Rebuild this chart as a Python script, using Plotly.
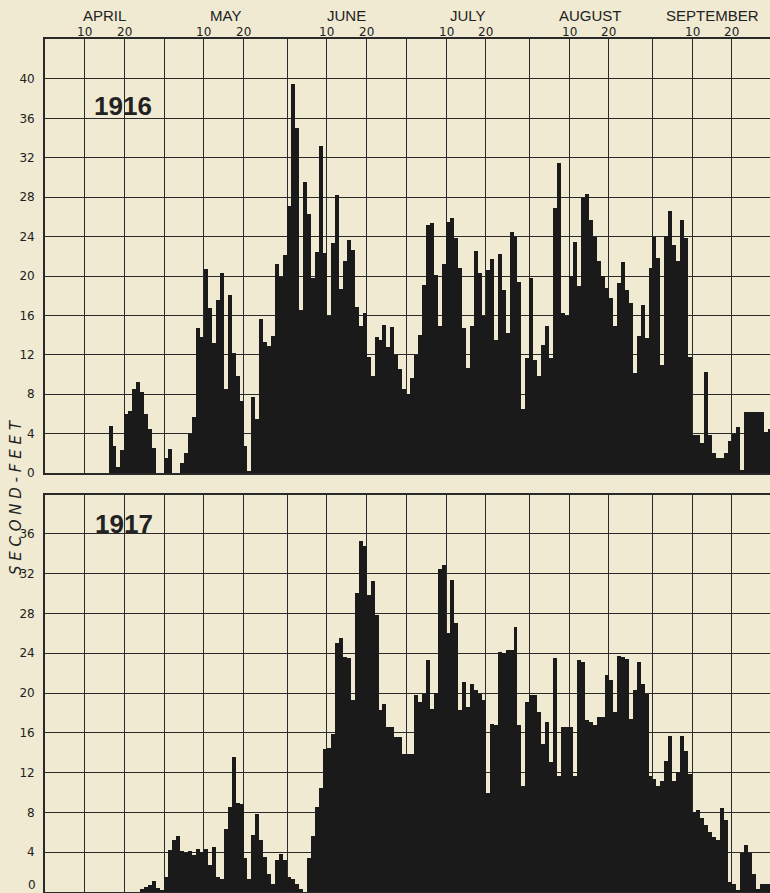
import plotly.graph_objects as go

# Daily discharge, second-feet, April 1 - September 30
apr_1916 = [0]*16 + [4.8, 2.7, 0.6, 2.3, 6.0, 6.3, 8.5, 9.2, 8.2, 6.0, 4.5, 2.5, 0, 0]
may_1916 = [1.5, 2.4, 0, 0, 1.0, 2.0, 4.0, 5.7, 14.7, 13.8,
            20.7, 16.8, 13.2, 17.6, 20.3, 8.5, 18.1, 12.2, 9.8, 7.3,
            2.7, 0.2, 7.7, 5.5, 15.6, 13.3, 12.9, 13.9, 21.2, 19.9, 22.1]
jun_1916 = [27.1, 39.5, 35.0, 16.5, 29.5, 26.3, 19.8, 22.4, 33.2, 22.3,
            15.9, 23.3, 28.2, 18.7, 21.5, 23.7, 22.6, 16.9, 14.9, 16.2,
            11.8, 9.8, 13.8, 13.5, 15.0, 12.8, 14.8, 12.0, 10.6, 8.5]
jul_1916 = [8.0, 9.6, 12.0, 14.0, 19.1, 25.2, 25.4, 20.1, 14.9, 21.2,
            25.5, 25.9, 23.9, 20.8, 14.7, 10.7, 14.9, 22.5, 20.3, 15.9,
            20.6, 21.7, 13.5, 22.2, 18.6, 14.2, 24.5, 24.0, 19.4, 6.5, 11.7]
aug_1916 = [19.8, 11.5, 9.8, 13.0, 14.9, 11.7, 26.9, 31.5, 16.2, 15.9,
            20.0, 23.5, 19.0, 27.9, 28.3, 25.7, 24.0, 21.5, 20.0, 18.8,
            17.8, 14.9, 19.3, 21.4, 18.6, 17.3, 10.2, 13.9, 17.1, 13.7, 20.8]
sep_1916 = [24.0, 21.8, 11.0, 24.1, 26.6, 23.1, 21.5, 25.7, 23.9, 11.8,
            3.9, 3.9, 3.0, 10.3, 3.9, 2.0, 1.5, 1.5, 2.0, 3.2,
            4.0, 4.7, 0.3, 6.2, 6.2, 6.2, 6.2, 6.2, 4.2, 4.5]

apr_1917 = [0]*24 + [0.3, 0.5, 0.7, 1.1, 0.4, 0.2]
may_1917 = [1.5, 4.2, 5.2, 5.6, 4.1, 3.9, 4.1, 3.7, 4.3, 4.0,
            4.3, 2.7, 4.5, 1.5, 1.3, 6.3, 8.5, 13.6, 8.9, 8.8,
            3.4, 1.3, 5.7, 7.8, 5.2, 3.5, 1.8, 0.8, 3.2, 3.8, 3.2]
jun_1917 = [1.5, 1.3, 0.8, 0.3, 0, 3.4, 5.6, 8.5, 10.5, 14.4,
            14.5, 15.9, 25.0, 25.5, 23.6, 23.5, 19.3, 30.1, 35.3, 34.8,
            29.8, 31.3, 27.8, 18.3, 18.9, 16.6, 16.6, 15.6, 15.6, 13.9]
jul_1917 = [13.9, 13.9, 19.8, 19.1, 19.9, 23.3, 18.4, 20.0, 32.5, 32.9,
            26.0, 31.4, 27.0, 18.3, 21.1, 18.6, 20.9, 20.3, 19.9, 19.3,
            9.9, 16.9, 16.8, 24.1, 24.0, 24.3, 24.3, 26.6, 16.8, 10.7, 19.1]
aug_1917 = [19.8, 19.8, 18.1, 14.9, 17.1, 13.1, 23.5, 11.7, 16.6, 16.6,
            16.6, 11.7, 23.3, 23.1, 17.3, 17.1, 16.8, 17.6, 17.6, 21.8,
            21.3, 18.1, 23.7, 23.6, 23.4, 17.4, 20.3, 23.1, 20.9, 19.9, 11.7]
sep_1917 = [11.4, 10.7, 11.2, 13.2, 15.7, 11.2, 12.1, 15.7, 14.2, 11.9,
            8.0, 8.2, 7.4, 6.7, 6.0, 5.5, 5.2, 8.4, 7.2, 1.0,
            0.8, 0.2, 3.9, 4.7, 3.9, 1.8, 0.3, 0.8, 0.8, 0.8]

months = ["APRIL", "MAY", "JUNE", "JULY", "AUGUST", "SEPTEMBER"]
month_days = [30, 31, 30, 31, 31, 30]
day_marks = ["10", "20"]
y_ticks_1916 = [0, 4, 8, 12, 16, 20, 24, 28, 32, 36, 40]
y_ticks_1917 = [0, 4, 8, 12, 16, 20, 24, 28, 32, 36]
y_label = "SECOND-FEET"

flow_1916 = apr_1916 + may_1916 + jun_1916 + jul_1916 + aug_1916 + sep_1916
flow_1917 = apr_1917 + may_1917 + jun_1917 + jul_1917 + aug_1917 + sep_1917
days = [d + 0.5 for d in range(len(flow_1916))]

starts = []
acc = 0
for n in month_days:
    starts.append(acc)
    acc += n
grid_x = []
for s in starts:
    grid_x += [s, s + 10, s + 20]

BG = "#efead1"
INK = "#1a1a1a"
GRID = "#2a2a2a"
TXT = "#222222"

fig = go.Figure()
fig.add_trace(go.Bar(x=days, y=flow_1916, width=1.0, marker=dict(color=INK, line=dict(width=0)),
                     xaxis="x", yaxis="y", hoverinfo="skip"))
fig.add_trace(go.Bar(x=days, y=flow_1917, width=1.0, marker=dict(color=INK, line=dict(width=0)),
                     xaxis="x2", yaxis="y2", hoverinfo="skip"))

xcommon = dict(range=[0, 182.6], tickvals=grid_x, showgrid=True, gridcolor=GRID, gridwidth=1.4,
               showticklabels=False, ticks="", showline=True, linecolor=GRID, linewidth=1.8,
               mirror=True, zeroline=False, fixedrange=True, automargin=False)
ycommon = dict(showgrid=True, gridcolor=GRID, gridwidth=1.4, showline=True, linecolor=GRID,
               linewidth=1.8, zeroline=False, ticks="", ticklabelstandoff=6, automargin=False,
               tickfont=dict(family="DejaVu Sans", size=12, color=TXT), fixedrange=True)

fig.update_layout(
    width=770, height=893, autosize=False,
    margin=dict(l=45, r=0, t=39, b=1, pad=0),
    paper_bgcolor=BG, plot_bgcolor=BG,
    showlegend=False, bargap=0,
    xaxis=dict(anchor="y", **xcommon),
    xaxis2=dict(anchor="y2", matches="x", **xcommon),
    yaxis=dict(domain=[0.4912, 1.0], range=[0, 44.06], tickvals=y_ticks_1916, **ycommon),
    yaxis2=dict(domain=[0.0, 0.4654], range=[0, 39.9], tickvals=y_ticks_1917[1:], **ycommon),
)

ann = []
for name, s, n in zip(months, starts, month_days):
    ann.append(dict(text=name, x=s + n / 2.0, xref="x", y=1, yref="paper", yanchor="bottom",
                    yshift=14, showarrow=False, borderpad=0,
                    font=dict(family="Liberation Sans", size=15, color=TXT)))
    for k, lab in enumerate(day_marks):
        ann.append(dict(text=lab, x=s + 10 * (k + 1), xref="x", y=1, yref="paper",
                        yanchor="bottom", yshift=-1, showarrow=False, borderpad=0,
                        font=dict(family="DejaVu Sans", size=12, color=TXT)))
ann.append(dict(text="<b>1916</b>", x=19.6, xref="x", y=37.3, yref="y", showarrow=False,
                font=dict(family="Liberation Sans", size=26, color=TXT)))
ann.append(dict(text="<b>1917</b>", x=19.9, xref="x2", y=37.0, yref="y2", showarrow=False,
                font=dict(family="Liberation Sans", size=26, color=TXT)))
# zero label of the lower panel, sitting on its baseline
ann.append(dict(text=str(y_ticks_1917[0]), x=0, xref="paper", xanchor="right", xshift=-7,
                y=0, yref="y2", yanchor="bottom", yshift=-2, showarrow=False,
                font=dict(family="DejaVu Sans", size=12, color=TXT)))
ann.append(dict(text="<i>" + " ".join(y_label) + "</i>", x=0, xref="paper", xanchor="center",
                xshift=-29, y=0.463, yref="paper", yanchor="middle", textangle=-90,
                showarrow=False, font=dict(family="DejaVu Sans", size=15, color=TXT)))
fig.update_layout(annotations=ann)

fig.write_html("out.html")
